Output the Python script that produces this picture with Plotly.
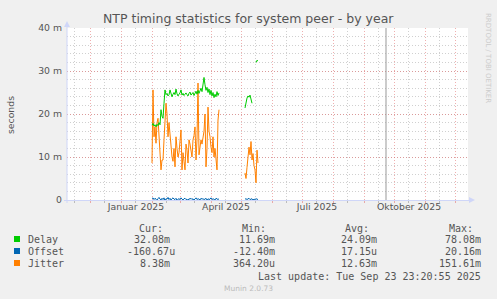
import pandas as pd
import plotly.graph_objects as go

# ---- data (values in milliseconds) ----
start_a = "2025-02-01"
delay_a = [17.4, 17.8, 17.2, 17.5, 17.0, 17.6, 17.3, 18.0, 17.5, 21.0,
           19.5, 19.0, 22.5, 25.6, 24.5, 24.8, 24.2, 24.5, 25.6, 24.8,
           24.0, 24.6, 25.0, 24.5, 25.8, 24.7, 24.2, 24.6, 24.9, 25.6,
           24.4, 24.8, 24.3, 24.6, 24.9, 24.5, 24.2, 24.8, 25.1, 24.4,
           24.7, 25.0, 24.3, 24.9, 25.3, 24.6, 25.5, 24.8, 25.6, 26.0,
           25.2, 26.5, 28.5, 26.8, 25.5, 26.2, 25.0, 25.8, 24.5, 25.5,
           24.2, 25.0, 23.8, 24.6, 24.0, 25.2, 24.3, 24.9]
jitter_a = [8.6, 25.6, 14.7, 17.0, 13.2, 18.0, 19.0, 15.0, 10.0, 7.0,
            9.3, 9.3, 14.0, 18.0, 22.5, 20.0, 14.7, 18.0, 15.0, 12.3,
            10.0, 9.0, 12.0, 7.7, 14.7, 12.0, 10.0, 11.0, 13.0, 16.3,
            7.0, 11.0, 9.0, 7.0, 13.0, 11.6, 8.6, 14.0, 13.0, 11.0,
            10.0, 14.0, 15.0, 17.0, 9.3, 14.0, 27.2, 10.5, 12.0, 14.0,
            13.0, 14.5, 16.0, 20.0, 7.7, 12.0, 21.6, 16.0, 14.7, 12.3,
            11.0, 14.7, 10.0, 12.0, 9.0, 7.0, 18.6, 21.0]
offset_a = [0.3, 0.5, 0.1, 0.4, 0.2, -0.1, 0.3, 0.6, 0.2, 0.0,
            0.4, 0.1, 0.5, -0.2, 0.3, 0.2, 0.6, 0.1, 0.4, 0.0,
            0.3, 0.5, 0.2, 0.1, 0.4, -0.1, 0.2, 0.3, 0.1, 0.5,
            0.2, 0.0, 0.3, 0.4, 0.1, 0.2, -0.1, 0.3, 0.2, 0.4,
            0.1, 0.3, 0.0, 0.2, 0.5, 0.1, 0.3, 0.2, 0.0, 0.4,
            0.2, 0.3, 0.1, 0.2, 0.4, 0.0, 0.3, 0.1, 0.2, 0.5,
            0.1, 0.3, 0.2, 0.0, 0.4, 0.2, 0.1, 0.3]

start_b = "2025-05-05"
delay_b = [21.4, 22.8, 23.7, 24.2, 23.9, 24.4, 23.2, 22.5, None, None,
           None, 32.0, 32.5, 32.3]
jitter_b = [6.3, 5.0, 7.6, 9.8, 12.3, 10.5, 13.6, 9.3, 10.8, 8.0,
            7.0, 4.0, 11.6, 8.6]
offset_b = [0.2, 0.3, 0.1, 0.2, 0.4, 0.1, 0.2, 0.3, 0.0, 0.2,
            0.1, 0.3, 0.2, 0.1]

x_start, x_end = "2024-11-08", "2025-12-14"
now_line = "2025-09-23"
label_dates = ["2025-01-16", "2025-04-16", "2025-07-16", "2025-10-16"]
label_text = ["Januar 2025", "April 2025", "Juli 2025", "Oktober 2025"]
y_ticks = [0, 10, 20, 30, 40]
y_ticktext = ["0", "10 m", "20 m", "30 m", "40 m"]

legend_names = ["Delay", "Offset", "Jitter"]
legend_colors = ["#00CC00", "#0066B3", "#FF8000"]
cur_vals = ["32.08m", "-160.67u", "8.38m"]
min_vals = ["11.69m", "-12.40m", "364.20u"]
avg_vals = ["24.09m", "17.15u", "12.63m"]
max_vals = ["78.08m", "20.16m", "151.61m"]
last_update = "Last update: Tue Sep 23 23:20:55 2025"

# ---- build series ----
def series(start, a_vals, start2, b_vals):
    da = list(pd.date_range(start, periods=len(a_vals), freq="D"))
    db = list(pd.date_range(start2, periods=len(b_vals), freq="D"))
    return da + [da[-1] + pd.Timedelta(days=1)] + db, list(a_vals) + [None] + list(b_vals)

W, H = 497, 299
L, R, T, B = 67, 468, 28, 200

def px2x(px):
    return (px - L) / (R - L)

def py2y(py):
    return (B - py) / (B - T)

fig = go.Figure()
for name, col, a, b in [("Jitter", legend_colors[2], jitter_a, jitter_b),
                        ("Delay", legend_colors[0], delay_a, delay_b),
                        ("Offset", legend_colors[1], offset_a, offset_b)]:
    xs, ys = series(start_a, a, start_b, b)
    fig.add_trace(go.Scatter(x=xs, y=ys, mode="lines", name=name,
                             line=dict(color=col, width=1), connectgaps=False,
                             xaxis="x", yaxis="y"))

# dummy trace on label axis
fig.add_trace(go.Scatter(x=[x_start], y=[None], xaxis="x2", yaxis="y",
                         showlegend=False, hoverinfo="skip"))

month_starts = list(pd.date_range("2024-12-01", "2025-12-01", freq="MS"))
mid_months = [d + pd.Timedelta(days=14) for d in pd.date_range("2024-11-01", "2025-12-01", freq="MS")]

GRID_MAJ = "rgba(225,110,110,0.55)"
GRID_MIN = "rgba(150,150,150,0.45)"
DASH = "1px,2px"
AXIS = "#CFD6F8"
FONT = "#555555"

fig.update_layout(
    width=W, height=H,
    margin=dict(l=L, r=W - R, t=T, b=H - B),
    paper_bgcolor="#F0F0F0", plot_bgcolor="#FFFFFF",
    showlegend=False,
    xaxis=dict(type="date", range=[x_start, x_end], tickvals=month_starts,
               showticklabels=False, showgrid=True, gridcolor=GRID_MAJ,
               griddash=DASH, gridwidth=1, zeroline=False, showline=False,
               ticks="outside", ticklen=2, tickcolor=GRID_MAJ,
               minor=dict(tickvals=mid_months, showgrid=True, gridcolor=GRID_MIN,
                          griddash=DASH, ticks="outside", ticklen=2, tickcolor="#BBBBBB")),
    xaxis2=dict(type="date", range=[x_start, x_end], overlaying="x", side="bottom",
                tickvals=label_dates, ticktext=label_text, showgrid=False,
                zeroline=False, showline=False, ticks="",
                tickfont=dict(family="DejaVu Sans", size=9.3, color=FONT)),
    yaxis=dict(range=[0, 40], tickvals=y_ticks, ticktext=y_ticktext,
               showgrid=True, gridcolor=GRID_MAJ, griddash=DASH, zeroline=False,
               showline=False, ticks="", ticklabelstandoff=4,
               tickfont=dict(family="DejaVu Sans", size=9.3, color=FONT),
               minor=dict(dtick=2, showgrid=True, gridcolor=GRID_MIN, griddash=DASH)),
)

shapes = []
# now line
shapes.append(dict(type="line", xref="x", yref="paper", x0=now_line, x1=now_line,
                   y0=0, y1=1, line=dict(color="#999999", width=1)))
# axis lines with arrows
shapes.append(dict(type="line", xref="paper", yref="paper", x0=px2x(64), x1=px2x(470),
                   y0=py2y(200.5), y1=py2y(200.5), line=dict(color=AXIS, width=1)))
shapes.append(dict(type="line", xref="paper", yref="paper", x0=px2x(67), x1=px2x(67),
                   y0=py2y(203), y1=py2y(25), line=dict(color=AXIS, width=1)))
shapes.append(dict(type="path", xref="paper", yref="paper", fillcolor=AXIS, line=dict(width=0),
                   path=f"M {px2x(64)} {py2y(27)} L {px2x(70)} {py2y(27)} L {px2x(67)} {py2y(21)} Z"))
shapes.append(dict(type="path", xref="paper", yref="paper", fillcolor=AXIS, line=dict(width=0),
                   path=f"M {px2x(469)} {py2y(197)} L {px2x(469)} {py2y(203)} L {px2x(475)} {py2y(200)} Z"))
# legend squares
row_y = [239, 251, 263]
for col, ry in zip(legend_colors, row_y):
    shapes.append(dict(type="rect", xref="paper", yref="paper", x0=px2x(14), x1=px2x(20),
                       y0=py2y(ry + 3), y1=py2y(ry - 3), fillcolor=col, line=dict(width=0)))
fig.update_layout(shapes=shapes)

ann = []
def txt(text, px, py, anchor="left", size=10, family="DejaVu Sans Mono", color=FONT, angle=0):
    ann.append(dict(text=text, x=px2x(px), y=py2y(py), xref="paper", yref="paper",
                    xanchor=anchor, yanchor="middle", showarrow=False, textangle=angle,
                    font=dict(family=family, size=size, color=color)))

txt("NTP timing statistics for system peer - by year", 248, 19, anchor="center",
    size=12.5, family="DejaVu Sans")
txt("seconds", 10, 115, anchor="center", size=9.3, family="DejaVu Sans", angle=-90)
txt("RRDTOOL / TOBI OETIKER", 488, 58, anchor="center", size=7, family="DejaVu Sans",
    color="#CCCCCC", angle=90)
for h, hx in zip(["Cur:", "Min:", "Avg:", "Max:"], [137, 240, 343, 447]):
    txt(h, hx, 228)
for i, ry in enumerate(row_y):
    txt(legend_names[i], 26, ry)
    txt(cur_vals[i], 177 if cur_vals[i].startswith("-1") else 172, ry, anchor="right")
    txt(min_vals[i], 277, ry, anchor="right")
    txt(avg_vals[i], 379, ry, anchor="right")
    txt(max_vals[i], 483, ry, anchor="right")
txt(last_update, 483, 276, anchor="right")
txt("Munin 2.0.73", 248, 288, anchor="center", size=7.5, family="DejaVu Sans", color="#BBBBBB")
fig.update_layout(annotations=ann)

fig.write_html("out.html")
